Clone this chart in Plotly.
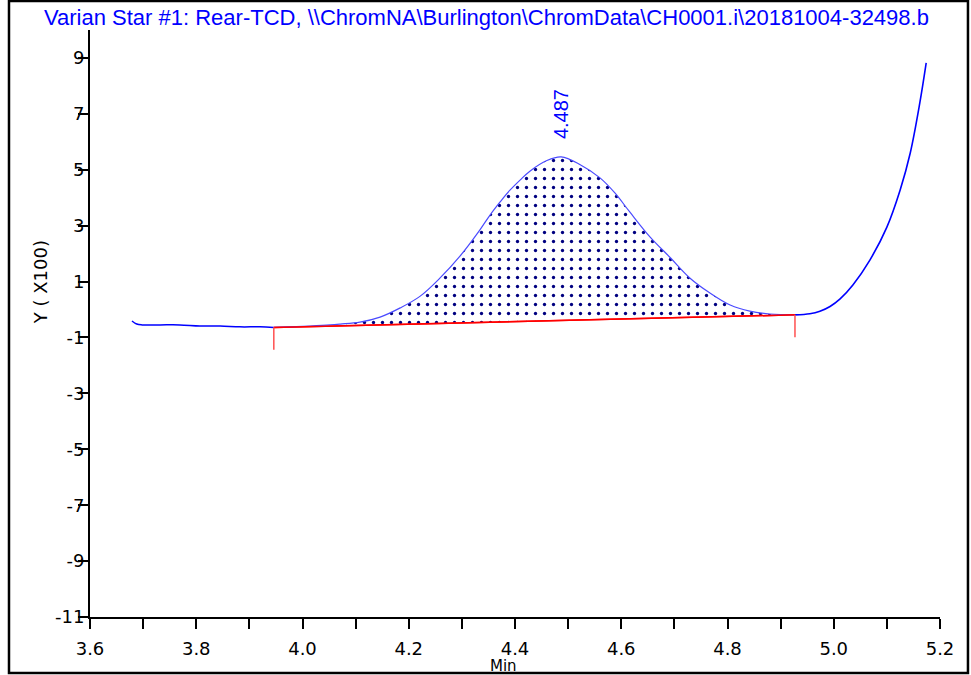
import plotly.graph_objects as go

# ---- data (minutes, signal in units of 100) ----
time = [3.679, 3.688, 3.698, 3.732, 3.769, 3.807, 3.845, 3.882, 3.920, 3.946,
        3.976, 4.014, 4.052, 4.071, 4.108, 4.146, 4.184, 4.221, 4.259, 4.296,
        4.334, 4.353, 4.372, 4.390, 4.410, 4.428, 4.460, 4.487, 4.522, 4.560,
        4.588, 4.616, 4.654, 4.692, 4.729, 4.767, 4.805, 4.842, 4.880, 4.927,
        4.955, 4.974, 4.993, 5.012, 5.036, 5.068, 5.100, 5.125, 5.144, 5.162, 5.174]
signal = [-0.41, -0.52, -0.55, -0.55, -0.55, -0.59, -0.59, -0.62, -0.62, -0.64,
          -0.62, -0.59, -0.55, -0.52, -0.45, -0.27, 0.06, 0.47, 1.13, 1.90,
          2.85, 3.38, 3.85, 4.26, 4.64, 4.95, 5.33, 5.46, 5.19, 4.71,
          4.17, 3.49, 2.60, 1.86, 1.13, 0.59, 0.16, -0.06, -0.16, -0.19,
          -0.15, -0.06, 0.11, 0.38, 0.88, 1.77, 2.95, 4.28, 5.60, 7.39, 8.82]

peak_rt = 4.487
peak_label = "4.487"
peak_start = 3.946
peak_end = 4.927
drop_len = 0.8

x_ticks = [3.6, 3.7, 3.8, 3.9, 4.0, 4.1, 4.2, 4.3, 4.4, 4.5, 4.6, 4.7, 4.8, 4.9, 5.0, 5.1, 5.2]
x_labels = ["3.6", "", "3.8", "", "4.0", "", "4.2", "", "4.4", "", "4.6", "", "4.8", "", "5.0", "", "5.2"]
y_ticks = [-11, -9, -7, -5, -3, -1, 1, 3, 5, 7, 9]
y_labels = ["-11", "-9", "-7", "-5", "-3", "-1", "1", "3", "5", "7", "9"]

title_text = "Varian Star #1: Rear-TCD, \\\\ChromNA\\Burlington\\ChromData\\CH0001.i\\20181004-32498.b"

i0 = time.index(peak_start)
i1 = time.index(peak_end)
bl_x = [time[i0], time[i1]]
bl_y = [signal[i0], signal[i1]]

BLUE = "#0000ff"
RED = "#ff0000"
TICKFONT = dict(family="DejaVu Sans", size=18, color="black")
NARROW = "Liberation Sans Narrow, Arial Narrow, Liberation Sans"

fig = go.Figure()
# chromatogram outside the integrated peak
fig.add_trace(go.Scatter(x=time[:i0 + 1], y=signal[:i0 + 1], mode="lines",
                         line=dict(color=BLUE, width=1.5, shape="spline"),
                         hoverinfo="skip", showlegend=False))
fig.add_trace(go.Scatter(x=time[i1:], y=signal[i1:], mode="lines",
                         line=dict(color=BLUE, width=1.6, shape="spline"),
                         hoverinfo="skip", showlegend=False))
# baseline (fill reference)
fig.add_trace(go.Scatter(x=bl_x, y=bl_y, mode="lines",
                         line=dict(color=RED, width=1.5),
                         hoverinfo="skip", showlegend=False))
# integrated peak with dotted fill
fig.add_trace(go.Scatter(x=time[i0:i1 + 1], y=signal[i0:i1 + 1], mode="lines",
                         line=dict(color="#4a4aff", width=1.2, shape="spline"),
                         fill="tonexty", fillcolor="white",
                         fillpattern=dict(shape=".", fgcolor="#000080", bgcolor="white",
                                          fgopacity=1, size=9, solidity=0.11),
                         hoverinfo="skip", showlegend=False))
# baseline again on top
fig.add_trace(go.Scatter(x=bl_x, y=bl_y, mode="lines",
                         line=dict(color=RED, width=1.5),
                         hoverinfo="skip", showlegend=False))
# drop markers at baseline ends
for bx, by in zip(bl_x, bl_y):
    fig.add_trace(go.Scatter(x=[bx, bx], y=[by, by - drop_len], mode="lines",
                             line=dict(color="#ff5050", width=1.5),
                             hoverinfo="skip", showlegend=False))

fig.add_annotation(x=peak_rt, y=7.0, xref="x", yref="y", text=peak_label,
                   textangle=-90, showarrow=False,
                   font=dict(family=NARROW, size=20, color=BLUE))

fig.add_annotation(x=0.466, y=1.022, xref="paper", yref="paper", text=title_text,
                   showarrow=False, xanchor="center", yanchor="middle",
                   font=dict(family=NARROW, size=22, color=BLUE))

fig.add_annotation(x=-0.073, y=0.571, xref="paper", yref="paper", text="Y ( X100)",
                   textangle=-90, showarrow=False,
                   font=dict(family="DejaVu Sans", size=18, color="black"))

fig.add_annotation(x=0.487, y=-0.084, xref="paper", yref="paper", text="Min",
                   showarrow=False, xanchor="center", yanchor="middle",
                   font=dict(family="DejaVu Sans", size=15, color="black"))

fig.add_shape(type="rect", xref="paper", yref="paper",
              x0=-0.0953, x1=1.0329, y0=-0.0954, y1=1.0494,
              line=dict(color="black", width=2.5), layer="above")

fig.update_layout(
    width=971, height=675,
    margin=dict(l=90, r=31, t=30, b=58),
    paper_bgcolor="white", plot_bgcolor="white",
    showlegend=False,
    xaxis=dict(range=[3.6, 5.2], tickmode="array", tickvals=x_ticks, ticktext=x_labels,
               showgrid=False, zeroline=False, showline=True, linecolor="black",
               linewidth=2, ticks="outside", ticklen=10, tickwidth=2, tickcolor="black",
               tickfont=TICKFONT, ticklabelstandoff=4),
    yaxis=dict(range=[-11, 10], tickmode="array", tickvals=y_ticks, ticktext=y_labels,
               showgrid=False, zeroline=False, showline=True, linecolor="black",
               linewidth=2, ticks="outside", ticklen=10, tickwidth=2, tickcolor="black",
               tickfont=TICKFONT, ticklabelstandoff=-10),
)

fig.write_html("out.html")
